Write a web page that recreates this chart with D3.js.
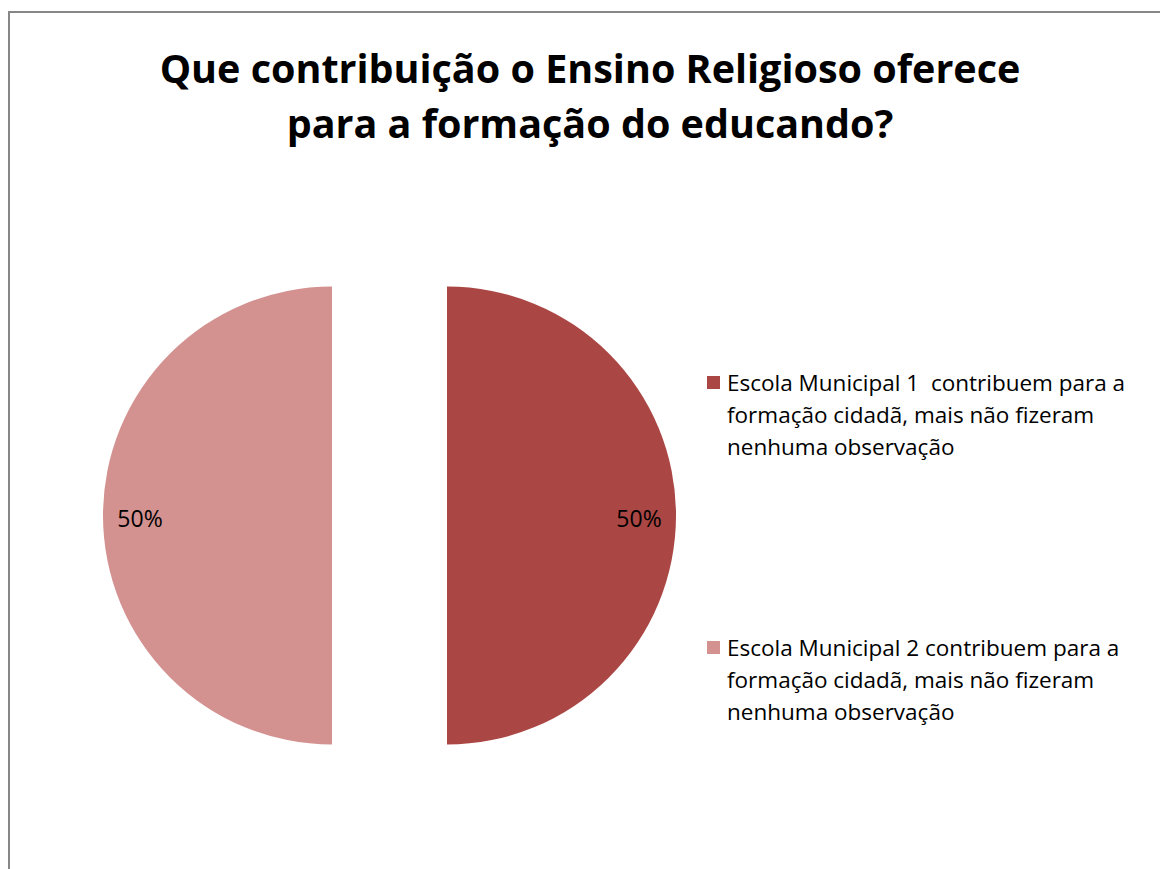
<!DOCTYPE html>
<html>
<head>
<meta charset="utf-8">
<script src="https://cdn.jsdelivr.net/npm/d3@7"></script>
<style>
  body { margin: 0; background: #fff; }
  svg { display: block; }
</style>
</head>
<body>
<script>
var w = 1160;
var h = 869;

var titleLines = ["Que contribuição o Ensino Religioso oferece", "para a formação do educando?"];
var categories = [
    "Escola Municipal 1  contribuem para a formação cidadã, mais não fizeram nenhuma observação",
    "Escola Municipal 2 contribuem para a formação cidadã, mais não fizeram nenhuma observação"
];
var legendLines = [
    ["Escola Municipal 1  contribuem para a", "formação cidadã, mais não fizeram", "nenhuma observação"],
    ["Escola Municipal 2 contribuem para a", "formação cidadã, mais não fizeram", "nenhuma observação"]
];
var values = [50, 50];
var colors = ["#AA4643", "#D39190"];

var cx = 389.5;
var cy = 515.5;
var radius = 229;
var explode = 57.5;

var svg = d3.select("body")
    .append("svg")
    .attr("width", w)
    .attr("height", h);

// chart frame (only left and top visible in the crop)
svg.append("rect")
    .attr("x", 9)
    .attr("y", 12)
    .attr("width", w + 20)
    .attr("height", h + 20)
    .attr("fill", "none")
    .attr("stroke", "#878787")
    .attr("stroke-width", 2);

svg.selectAll("text.title")
    .data(titleLines)
    .enter()
    .append("text")
    .attr("class", "title")
    .attr("x", 590)
    .attr("y", function (d, i) { return 83 + i * 55; })
    .attr("text-anchor", "middle")
    .style("font-family", "'Open Sans', sans-serif")
    .style("font-weight", "bold")
    .style("font-size", "39.5px")
    .style("fill", "#000")
    .text(function (d) { return d; });

var pie = d3.pie()
    .sort(null)
    .value(function (d) { return d; });

var arc = d3.arc()
    .innerRadius(0)
    .outerRadius(radius);

var slices = svg.selectAll("g.slice")
    .data(pie(values))
    .enter()
    .append("g")
    .attr("class", "slice")
    .attr("transform", function (d) {
        var mid = (d.startAngle + d.endAngle) / 2;
        var dx = Math.sin(mid) * explode;
        var dy = -Math.cos(mid) * explode;
        return "translate(" + (cx + dx) + "," + (cy + dy) + ")";
    });

slices.append("path")
    .attr("d", arc)
    .attr("fill", function (d, i) { return colors[i]; });

slices.append("text")
    .attr("x", function (d) {
        var mid = (d.startAngle + d.endAngle) / 2;
        return Math.sin(mid) * 192;
    })
    .attr("y", function (d) {
        var mid = (d.startAngle + d.endAngle) / 2;
        return -Math.cos(mid) * 192 + 11;
    })
    .attr("text-anchor", "middle")
    .style("font-family", "'Open Sans', sans-serif")
    .style("font-size", "23px")
    .style("fill", "#000")
    .text(function (d) {
        var total = d3.sum(values);
        return Math.round(d.value / total * 100) + "%";
    });

var legend = svg.selectAll("g.legend")
    .data(legendLines)
    .enter()
    .append("g")
    .attr("class", "legend")
    .attr("transform", function (d, i) {
        return "translate(707," + (383 + i * 265) + ")";
    });

legend.append("rect")
    .attr("x", 0)
    .attr("y", -7)
    .attr("width", 13)
    .attr("height", 13)
    .attr("fill", function (d, i) { return colors[i]; });

legend.append("text")
    .style("font-family", "'Open Sans', sans-serif")
    .style("font-size", "22.5px")
    .style("white-space", "pre")
    .style("fill", "#000")
    .selectAll("tspan")
    .data(function (d) { return d; })
    .enter()
    .append("tspan")
    .attr("x", 20)
    .attr("y", function (d, i) { return 8 + i * 32; })
    .text(function (d) { return d; });
</script>
</body>
</html>
